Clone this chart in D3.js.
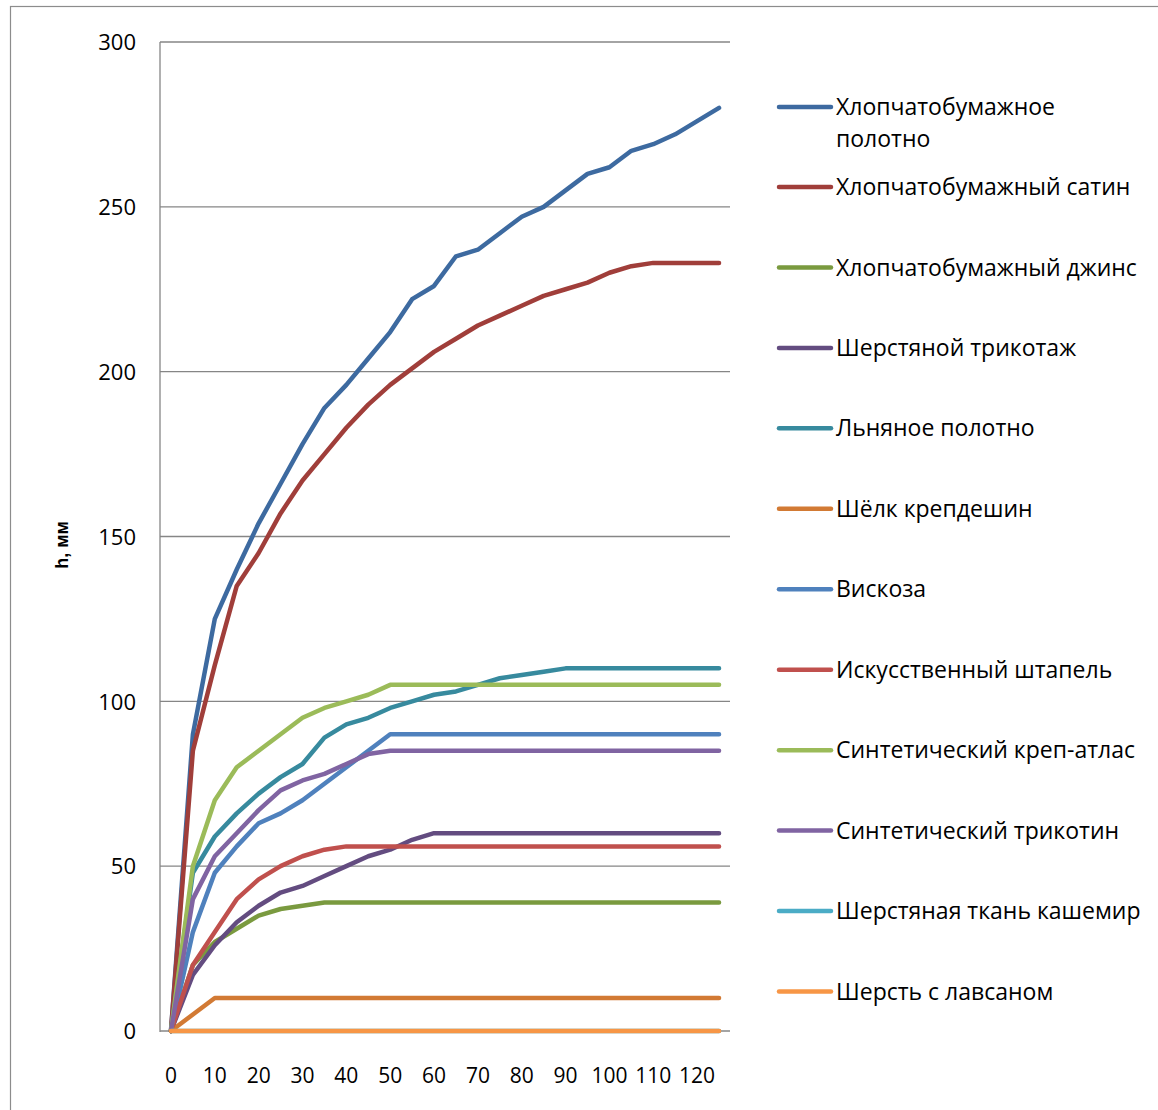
<!DOCTYPE html>
<html><head><meta charset="utf-8">
<script src="https://cdn.jsdelivr.net/npm/d3@7"></script>
<style>body{margin:0;background:#fff}svg{display:block}</style>
</head><body>
<svg id="c" width="1158" height="1110"></svg>
<script>
const categories = [0,5,10,15,20,25,30,35,40,45,50,55,60,65,70,75,80,85,90,95,100,105,110,115,120,125];
const xTickLabels = [0,10,20,30,40,50,60,70,80,90,100,110,120];
const yTicks = [0,50,100,150,200,250,300];
const seriesNames = [
 "Хлопчатобумажное полотно","Хлопчатобумажный сатин","Хлопчатобумажный джинс","Шерстяной трикотаж",
 "Льняное полотно","Шёлк крепдешин","Вискоза","Искусственный штапель","Синтетический креп-атлас",
 "Синтетический трикотин","Шерстяная ткань кашемир","Шерсть с лавсаном"];
const sCottonCloth = [0,90,125,140,154,166,178,189,196,204,212,222,226,235,237,242,247,250,255,260,262,267,269,272,276,280];
const sCottonSatin = [0,85,111,135,145,157,167,175,183,190,196,201,206,210,214,217,220,223,225,227,230,232,233,233,233,233];
const sCottonDenim = [0,20,27,31,35,37,38,39,39,39,39,39,39,39,39,39,39,39,39,39,39,39,39,39,39,39];
const sWoolKnit    = [0,17,26,33,38,42,44,47,50,53,55,58,60,60,60,60,60,60,60,60,60,60,60,60,60,60];
const sLinen       = [0,48,59,66,72,77,81,89,93,95,98,100,102,103,105,107,108,109,110,110,110,110,110,110,110,110];
const sSilk        = [0,5,10,10,10,10,10,10,10,10,10,10,10,10,10,10,10,10,10,10,10,10,10,10,10,10];
const sViscose     = [0,30,48,56,63,66,70,75,80,85,90,90,90,90,90,90,90,90,90,90,90,90,90,90,90,90];
const sStaple      = [0,20,30,40,46,50,53,55,56,56,56,56,56,56,56,56,56,56,56,56,56,56,56,56,56,56];
const sCrepeSatin  = [0,50,70,80,85,90,95,98,100,102,105,105,105,105,105,105,105,105,105,105,105,105,105,105,105,105];
const sTricotine   = [0,40,53,60,67,73,76,78,81,84,85,85,85,85,85,85,85,85,85,85,85,85,85,85,85,85];
const sCashmere    = [0,0,0,0,0,0,0,0,0,0,0,0,0,0,0,0,0,0,0,0,0,0,0,0,0,0];
const sWoolLavsan  = [0,0,0,0,0,0,0,0,0,0,0,0,0,0,0,0,0,0,0,0,0,0,0,0,0,0];
const seriesValues = [sCottonCloth,sCottonSatin,sCottonDenim,sWoolKnit,sLinen,sSilk,sViscose,sStaple,sCrepeSatin,sTricotine,sCashmere,sWoolLavsan];
const colors = ["#3d6aa0","#a03e3a","#7a9a3f","#634c80","#378a9e","#d27a34","#4f81bd","#c0504d","#9bbb59","#8064a2","#4bacc6","#f79646"];

const svg = d3.select("#c");
const font = "'Open Sans', sans-serif";
const L = 160, R = 730, T = 42, B = 1031;

svg.append("rect").attr("x",10.5).attr("y",6.5).attr("width",1160).attr("height",1120)
  .attr("fill","none").attr("stroke","#8c8c8c").attr("stroke-width",1.2);

const x = d3.scaleBand().domain(categories).range([L,R]);
const y = d3.scaleLinear().domain([0,300]).range([B,T]);
const xc = v => x(v) + x.bandwidth()/2;

// gridlines
svg.append("g").selectAll("line").data(yTicks).join("line")
  .attr("x1",L).attr("x2",R).attr("y1",d=>y(d)).attr("y2",d=>y(d))
  .attr("stroke","#868686").attr("stroke-width",1.3);
svg.append("line").attr("x1",L).attr("x2",L).attr("y1",T).attr("y2",B+1)
  .attr("stroke","#868686").attr("stroke-width",1.3);

// y axis labels
const yAxis = d3.axisLeft(y).tickValues(yTicks).tickSize(0).tickPadding(0);
const gy = svg.append("g").attr("transform",`translate(${L-24},0)`).call(yAxis);
gy.select(".domain").remove();
gy.selectAll("text").attr("font-family",font).attr("font-size",22).attr("fill","#000").attr("dy","0.35em");

// x axis labels
const xAxis = d3.axisBottom(x).tickValues(xTickLabels).tickSize(0).tickPadding(0);
const gx = svg.append("g").attr("transform",`translate(0,${B+45})`).call(xAxis);
gx.select(".domain").remove();
gx.selectAll("text").attr("font-family",font).attr("font-size",21).attr("fill","#000").attr("dy","0.35em");

svg.append("text").attr("transform",`translate(68,545) rotate(-90)`).attr("text-anchor","middle")
  .attr("font-family","'Liberation Sans', Arial, sans-serif").attr("font-weight","bold").attr("font-size",18)
  .text("h, мм");

// lines
const line = d3.line().x((d,i)=>xc(categories[i])).y(d=>y(d));
svg.append("g").selectAll("path").data(seriesValues).join("path")
  .attr("d",d=>line(d)).attr("fill","none").attr("stroke",(d,i)=>colors[i])
  .attr("stroke-width",4.5).attr("stroke-linejoin","round").attr("stroke-linecap","round");

// legend
const legY = seriesNames.map((n,i)=> i===0 ? 107 : 187 + (i-1)*80.45);
const lg = svg.append("g");
seriesNames.forEach((n,i)=>{
  lg.append("line").attr("x1",779).attr("x2",831).attr("y1",legY[i]).attr("y2",legY[i])
    .attr("stroke",colors[i]).attr("stroke-width",4.5).attr("stroke-linecap","round");
  const t = lg.append("text").attr("x",836).attr("y",legY[i]).attr("dy","0.35em")
    .attr("font-family",font).attr("font-size",23).attr("fill","#000");
  if(i===0){
    t.append("tspan").attr("x",836).text("Хлопчатобумажное");
    t.append("tspan").attr("x",836).attr("dy","1.4em").text("полотно");
  } else t.text(n);
});
</script>
</body></html>
